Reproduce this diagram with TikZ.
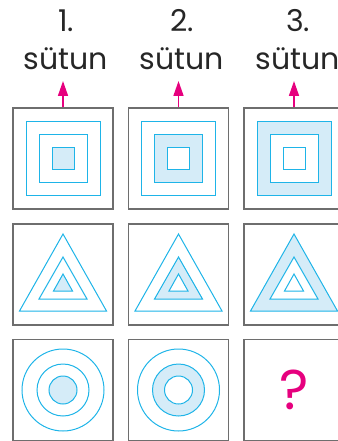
\documentclass[tikz,border=0pt]{standalone}
\usepackage{fontspec}
\setmainfont{Poppins}
\usepackage{xcolor}
\usetikzlibrary{arrows.meta,positioning}
\definecolor{lineblue}{HTML}{1EB4E8}
\definecolor{fillblue}{HTML}{D5ECF8}
\definecolor{boxgray}{HTML}{6E6E6E}
\definecolor{pinkmark}{HTML}{E6007E}

\begin{document}
\begin{tikzpicture}[
    x=1pt, y=-1pt,
    cell/.style={rectangle, draw=boxgray, line width=1.2pt, minimum width=100pt, minimum height=101pt, inner sep=0pt},
    fig/.style={draw=lineblue, line width=1pt},
    colhead/.style={font=\fontsize{30}{36}\selectfont, text=black!85, inner sep=0pt},
    edge/.style={-{Triangle[length=15pt,width=10pt]}, line width=1.6pt, pinkmark}
]
    \useasboundingbox (0,0) rectangle (337,441);

    % column titles
    \node[colhead, anchor=base] (n1) at (66,32) {1.};
    \node[colhead, anchor=base] (n2) at (182,32) {2.};
    \node[colhead, anchor=base] (n3) at (298,32) {3.};
    \node[colhead, anchor=base] (w1) at (66,70) {sütun};
    \node[colhead, anchor=base] (w2) at (182,70) {sütun};
    \node[colhead, anchor=base] (w3) at (298,70) {sütun};

    % cells
    \node[cell] (s1) at (63,158.5) {};
    \node[cell] (s2) at (178.5,158.5) {};
    \node[cell] (s3) at (294,158.5) {};
    \node[cell] (t1) at (63,274.5) {};
    \node[cell] (t2) at (178.5,274.5) {};
    \node[cell] (t3) at (294,274.5) {};
    \node[cell] (k1) at (63,390) {};
    \node[cell] (k2) at (178.5,390) {};
    \node[cell] (k3) at (294,390) {};

    % arrows up to the titles
    \coordinate (a1) at (63,81);
    \coordinate (a2) at (178.5,81);
    \coordinate (a3) at (294,81);
    \draw[edge] (s1.north) -- (a1);
    \draw[edge] (s2.north) -- (a2);
    \draw[edge] (s3.north) -- (a3);

    % squares
    \foreach \c/\fa/\fb/\fc in {1/white/white/fillblue, 2/white/fillblue/white, 3/fillblue/white/white} {
        \draw[fig, fill=\fa] ([shift={(-37,-37)}]s\c.center) rectangle ([shift={(37,37)}]s\c.center);
        \draw[fig, fill=\fb] ([shift={(-24,-24)}]s\c.center) rectangle ([shift={(24,24)}]s\c.center);
        \draw[fig, fill=\fc] ([shift={(-11,-11)}]s\c.center) rectangle ([shift={(11,11)}]s\c.center);
    }

    % triangles
    \foreach \c/\fa/\fb/\fc in {1/white/white/fillblue, 2/white/fillblue/white, 3/fillblue/white/white} {
        \draw[fig, fill=\fa] ([shift={(0,-40.5)}]t\c.center) -- ([shift={(43.5,36.5)}]t\c.center) -- ([shift={(-43.5,36.5)}]t\c.center) -- cycle;
        \draw[fig, fill=\fb] ([shift={(0,-17.5)}]t\c.center) -- ([shift={(24,24.5)}]t\c.center) -- ([shift={(-24,24.5)}]t\c.center) -- cycle;
        \draw[fig, fill=\fc] ([shift={(0,-0.5)}]t\c.center) -- ([shift={(9.5,16.5)}]t\c.center) -- ([shift={(-9.5,16.5)}]t\c.center) -- cycle;
    }

    % circles
    \draw[fig] (k1.center) circle[radius=41pt];
    \draw[fig] (k1.center) circle[radius=26pt];
    \draw[fig, fill=fillblue] (k1.center) circle[radius=14pt];
    \draw[fig] (k2.center) circle[radius=41pt];
    \draw[fig, fill=fillblue] (k2.center) circle[radius=26pt];
    \draw[fig, fill=white] (k2.center) circle[radius=14pt];

    \node[font=\fontsize{56}{56}\selectfont, text=pinkmark] (q) at (k3.center) {?};
\end{tikzpicture}
\end{document}
